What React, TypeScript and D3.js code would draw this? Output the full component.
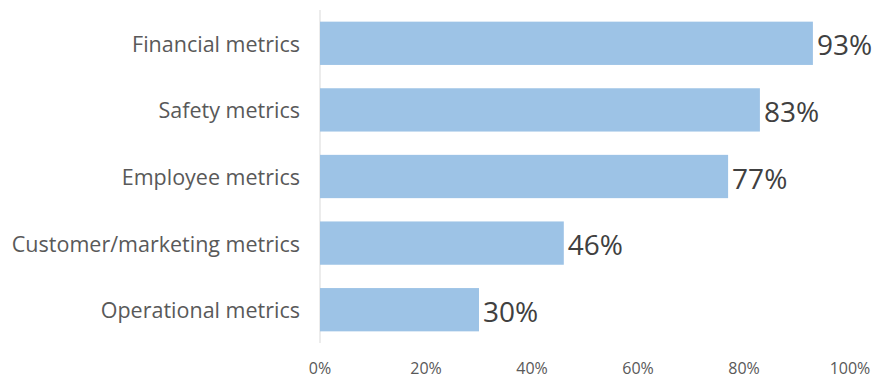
import React from "react";
import * as d3 from "d3";

const categories = ["Financial metrics", "Safety metrics", "Employee metrics", "Customer/marketing metrics", "Operational metrics"];
const values = [93, 83, 77, 46, 30];
const ticks = [0, 20, 40, 60, 80, 100];

export default function App() {
  const W = 875, H = 378;
  const x = d3.scaleLinear().domain([0, 100]).range([320, 850]);
  const y = d3.scaleBand<string>().domain(categories).range([10, 343]).paddingInner(0.35).paddingOuter(0.175);
  const font = "'Open Sans', 'Noto Sans', sans-serif";
  return (
    <svg width={W} height={H} style={{ position: "absolute", left: 0, top: 0, background: "#fff" }} fontFamily={font}>
      <line x1={x(0)} x2={x(0)} y1={10} y2={343} stroke="#d9d9d9" strokeWidth={1} />
      {categories.map((c, i) => (
        <g key={c}>
          <rect x={x(0)} y={y(c)!} width={x(values[i]) - x(0)} height={y.bandwidth()} fill="#9dc3e6" />
          <text x={300} y={y(c)! + y.bandwidth() / 2} textAnchor="end" dominantBaseline="central" fontSize={21.5} fill="#595959">{c}</text>
          <text x={x(values[i]) + 4} y={y(c)! + y.bandwidth() / 2 + 1} textAnchor="start" dominantBaseline="central" fontSize={28} fill="#404040">{values[i]}%</text>
        </g>
      ))}
      {ticks.map(t => (
        <text key={t} x={x(t)} y={373.5} textAnchor="middle" fontSize={16} fill="#595959">{t}%</text>
      ))}
    </svg>
  );
}
